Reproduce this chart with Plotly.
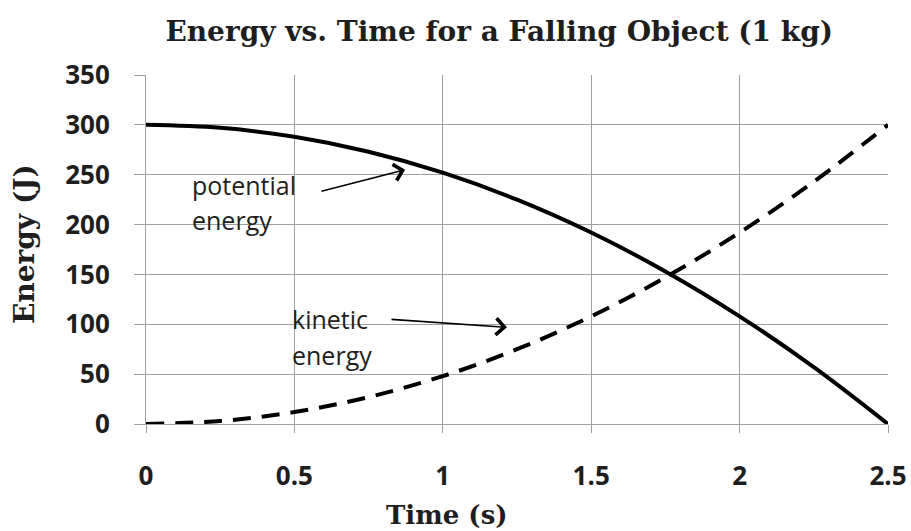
import plotly.graph_objects as go

# Data
time_s = [0, 0.25, 0.5, 0.75, 1.0, 1.25, 1.5, 1.75, 2.0, 2.25, 2.5]
potential_energy = [300, 297, 288, 273, 252, 225, 192, 153, 108, 57, 0]
kinetic_energy = [0, 3, 12, 27, 48, 75, 108, 147, 192, 243, 300]
x_ticks = [0, 0.5, 1, 1.5, 2, 2.5]
x_tick_labels = ["0", "0.5", "1", "1.5", "2", "2.5"]
y_ticks = [0, 50, 100, 150, 200, 250, 300, 350]

GRID = "#a0a0a0"
TXT = "#1e1e1e"
TICKFONT = dict(family="Open Sans", size=26, color=TXT, weight="bold")
SERIF = "DejaVu Serif"

fig = go.Figure()
fig.add_trace(go.Scatter(
    x=time_s, y=potential_energy, mode="lines", name="potential energy",
    line=dict(color="black", width=4, shape="spline"), showlegend=False))
fig.add_trace(go.Scatter(
    x=time_s, y=kinetic_energy, mode="lines", name="kinetic energy",
    line=dict(color="black", width=4, shape="spline", dash="18px,11px"),
    showlegend=False))

# text labels
lab_font = dict(family="Open Sans", size=25, color=TXT)
for txt, x, y in [("potential", 0.148, 240), ("energy", 0.148, 205),
                  ("kinetic", 0.485, 105), ("energy", 0.485, 69)]:
    fig.add_annotation(x=x, y=y, text=txt, showarrow=False, xanchor="left",
                       yanchor="middle", font=lab_font)

# arrows
for (tx, ty, hx, hy) in [(0.586, 233, 0.873, 255), (0.822, 105, 1.216, 97)]:
    fig.add_annotation(x=hx, y=hy, ax=tx, ay=ty, xref="x", yref="y",
                       axref="x", ayref="y", text="", showarrow=True,
                       arrowhead=4, arrowsize=2.0, arrowwidth=1.6,
                       arrowcolor="black")

# axis titles (placed as in the reference)
fig.add_annotation(text="<b>Time (s)</b>", xref="paper", yref="paper",
                   x=0.406, y=-0.262, xanchor="center", yanchor="middle",
                   showarrow=False, font=dict(family=SERIF, size=26, color=TXT))
fig.add_annotation(text="<b>Energy (J)</b>", xref="paper", yref="paper",
                   x=-0.163, y=0.516, xanchor="center", yanchor="middle",
                   textangle=-90, showarrow=False,
                   font=dict(family=SERIF, size=28, color=TXT))

fig.update_layout(
    width=911, height=531,
    margin=dict(l=146, r=23, t=75, b=107, autoexpand=False),
    paper_bgcolor="white", plot_bgcolor="white",
    title=dict(text="<b>Energy vs. Time for a Falling Object (1 kg)</b>",
               font=dict(family=SERIF, size=28, color=TXT),
               x=0.548, xref="container", xanchor="center",
               y=0.942, yref="container", yanchor="middle"),
    xaxis=dict(range=[0, 2.5], tickvals=x_ticks, ticktext=x_tick_labels,
               showgrid=True, gridcolor=GRID, gridwidth=1,
               showline=True, linecolor=GRID, linewidth=1, mirror=False,
               ticks="outside", ticklen=8, tickcolor=GRID,
               tickfont=TICKFONT, ticklabelstandoff=21, zeroline=False),
    yaxis=dict(range=[0, 350], tickvals=y_ticks,
               showgrid=True, gridcolor=GRID, gridwidth=1,
               showline=True, linecolor=GRID, linewidth=1,
               ticks="outside", ticklen=11, tickcolor=GRID,
               tickfont=TICKFONT, ticklabelstandoff=19, zeroline=False),
)
fig.write_html("out.html", config={"displayModeBar": False},
               post_script="document.body.style.margin='0';")
